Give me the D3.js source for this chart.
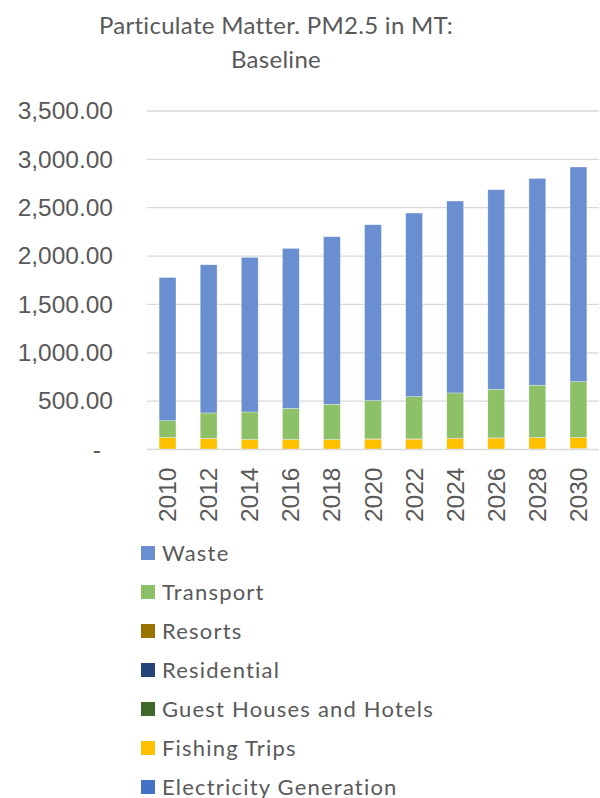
<!DOCTYPE html>
<html>
<head>
<meta charset="utf-8">
<script src="https://cdn.jsdelivr.net/npm/d3@7"></script>
<style>
  body { margin: 0; background: #fff; }
  text { fill: #595959; }
</style>
</head>
<body>
<div id="chart"></div>
<script>
// chart data
var years = ["2010", "2012", "2014", "2016", "2018", "2020", "2022", "2024", "2026", "2028", "2030"];
var seriesNames = ["Electricity Generation", "Fishing Trips", "Guest Houses and Hotels", "Residential", "Resorts", "Transport", "Waste"];
var electricity = [0, 0, 0, 0, 0, 0, 0, 0, 3, 4, 10];
var fishing = [122, 111, 101, 101, 101, 107, 107, 113, 115, 118, 112];
var guestHouses = [0, 0, 0, 0, 0, 0, 0, 0, 0, 0, 0];
var residential = [0, 0, 0, 0, 0, 0, 0, 0, 0, 0, 0];
var resorts = [2, 3, 3, 3, 3, 3, 3, 4, 2, 2, 2];
var transport = [174, 264, 284, 322, 364, 395, 437, 468, 503, 541, 578];
var waste = [1480, 1532, 1598, 1653, 1732, 1819, 1898, 1984, 2063, 2138, 2219];
var colors = ["#4472c4", "#ffc000", "#43682b", "#264478", "#997300", "#8dc168", "#6a8fd0"];
var yTicks = [0, 500, 1000, 1500, 2000, 2500, 3000, 3500];

var w = 600, h = 798;
var svg = d3.select("#chart").append("svg").attr("width", w).attr("height", h);

var rows = years.map(function(y, i) {
  return {year: y, "Electricity Generation": electricity[i], "Fishing Trips": fishing[i],
    "Guest Houses and Hotels": guestHouses[i], "Residential": residential[i],
    "Resorts": resorts[i], "Transport": transport[i], "Waste": waste[i]};
});
var stacked = d3.stack().keys(seriesNames)(rows);

var x = d3.scaleBand().domain(years).range([147, 599]).paddingInner(0.59).paddingOuter(0.295);
var y = d3.scaleLinear().domain([0, 3500]).range([449.5, 111]);
var color = d3.scaleOrdinal().domain(seriesNames).range(colors);

// title
var title = svg.append("text").attr("x", 276).attr("text-anchor", "middle")
  .style("font-family", "Lato, sans-serif").style("font-size", "24px")
  .style("letter-spacing", "0.3px");
title.append("tspan").attr("x", 276).attr("y", 34).text("Particulate Matter. PM2.5 in MT:");
title.append("tspan").attr("x", 276).attr("y", 68).text("Baseline");

// gridlines
svg.append("g").selectAll("line").data(yTicks.slice(1)).enter().append("line")
  .attr("x1", 147).attr("x2", 599)
  .attr("y1", function(d) { return y(d); }).attr("y2", function(d) { return y(d); })
  .attr("stroke", "#d9d9d9").attr("stroke-width", 1.3);

// y axis labels
var yAxis = svg.append("g").attr("transform", "translate(147,0)")
  .call(d3.axisLeft(y).tickValues(yTicks).tickSize(0).tickPadding(34)
    .tickFormat(function(d) { return d === 0 ? "-" : d3.format(",.2f")(d); }));
yAxis.select(".domain").remove();
yAxis.selectAll("text").style("font-family", "'Liberation Sans', Arial, sans-serif")
  .style("font-size", "24.5px").attr("fill", "#595959");
yAxis.selectAll(".tick").filter(function(d) { return d === 0; }).select("text")
  .attr("dx", -12);

// bars
svg.append("g").selectAll("g").data(stacked).enter().append("g")
  .attr("fill", function(d) { return color(d.key); })
  .selectAll("rect").data(function(d) { return d; }).enter().append("rect")
  .attr("x", function(d) { return x(d.data.year); })
  .attr("width", x.bandwidth())
  .attr("y", function(d) { return y(d[1]); })
  .attr("height", function(d) { return y(d[0]) - y(d[1]); })
  .attr("stroke", "#fff").attr("stroke-width", 0.5).attr("stroke-opacity", 0.6);

// x axis line
svg.append("line").attr("x1", 147).attr("x2", 599).attr("y1", y(0)).attr("y2", y(0))
  .attr("stroke", "#d9d9d9").attr("stroke-width", 1.5);

// x labels rotated
var xAxis = svg.append("g").attr("transform", "translate(0," + y(0) + ")")
  .call(d3.axisBottom(x).tickSize(0).tickPadding(0));
xAxis.select(".domain").remove();
xAxis.selectAll("text")
  .attr("transform", "rotate(-90)")
  .attr("text-anchor", "end")
  .attr("x", -18).attr("y", 0).attr("dy", "0.35em")
  .style("font-family", "'Liberation Sans', Arial, sans-serif")
  .style("font-size", "24.5px").attr("fill", "#595959");

// legend, reversed so Waste is on top
var legend = svg.append("g").selectAll("g").data(seriesNames.slice().reverse()).enter().append("g")
  .attr("transform", function(d, i) { return "translate(141," + (553 + i * 39) + ")"; });
legend.append("rect").attr("x", 0).attr("y", -7).attr("width", 14).attr("height", 14)
  .attr("fill", function(d) { return color(d); });
legend.append("text").attr("x", 21).attr("y", 0).attr("dy", "0.35em")
  .style("font-family", "Lato, sans-serif").style("font-size", "22px")
  .style("letter-spacing", "1.2px")
  .text(function(d) { return d; });
</script>
</body>
</html>
